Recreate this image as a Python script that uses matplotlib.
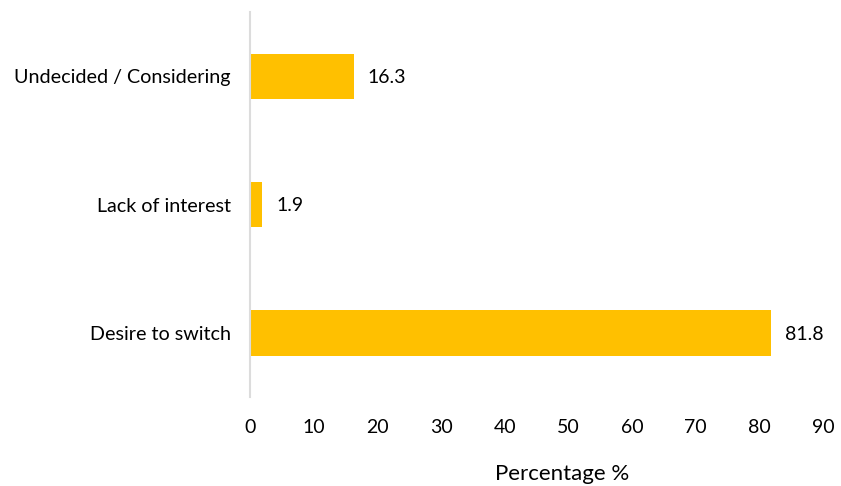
import matplotlib
matplotlib.use("Agg")
import matplotlib.pyplot as plt

categories = ["Desire to switch", "Lack of interest", "Undecided / Considering"]
values = [81.8, 1.9, 16.3]
xticks = [0, 10, 20, 30, 40, 50, 60, 70, 80, 90]

plt.rcParams["font.family"] = ["Lato", "DejaVu Sans"]

fig = plt.figure(figsize=(8.41, 4.86), dpi=100)
ax = fig.add_axes([0.2973, 0.183, 0.6813, 0.792])

bar_color = "#FFC000"
ypos = list(range(len(categories)))
ax.barh(ypos, values, height=0.355, color=bar_color, zorder=2)

for y, v in zip(ypos, values):
    ax.annotate(f"{v}", xy=(v, y), xytext=(10, -1), textcoords="offset points",
                va="center", ha="left", fontsize=14, color="#000000")

ax.set_xlim(0, 90)
ax.set_ylim(-0.5, 2.5)
ax.set_xticks(xticks)
ax.set_xticklabels([str(t) for t in xticks], fontsize=14)
ax.set_yticks(ypos)
ax.set_yticklabels(categories, fontsize=14.2)
ax.tick_params(axis="both", length=0)
ax.tick_params(axis="x", pad=16)
ax.tick_params(axis="y", pad=14)

for side in ["top", "right", "bottom"]:
    ax.spines[side].set_visible(False)
ax.spines["left"].set_color("#dcdcdc")
ax.spines["left"].set_linewidth(1.5)

ax.set_xlabel("Percentage %", fontsize=16, labelpad=16)
ax.xaxis.set_label_coords(0.545, -0.175)

fig.savefig("out.png", dpi=100, facecolor="white")
